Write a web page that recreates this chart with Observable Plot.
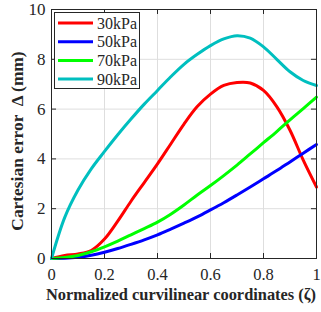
<!DOCTYPE html>
<html><head><meta charset="utf-8">
<script src="https://cdn.jsdelivr.net/npm/d3@7"></script>
<script src="https://cdn.jsdelivr.net/npm/@observablehq/plot@0.6"></script>
<style>
body{margin:0;background:#fff;}
#wrap{position:relative;width:321px;height:312px;}
#wrap svg text{font-family:"Liberation Serif","Times New Roman",Times,"DejaVu Serif",serif !important;}
#legend{position:absolute;left:54px;top:12px;width:86px;height:77px;border:1px solid #262626;background:#fff;box-sizing:border-box;}
</style></head>
<body><div id="wrap"><div id="legend"></div></div>
<script>
const zeta = [0,0.05,0.1,0.15,0.2,0.25,0.3,0.35,0.4,0.45,0.5,0.55,0.6,0.65,0.7,0.75,0.8,0.85,0.9,0.95,1];
const p30 = [0,0.12,0.18,0.32,0.78,1.5,2.3,3.05,3.8,4.6,5.4,6.1,6.6,6.95,7.07,7.05,6.75,6.1,5.15,3.95,2.87];
const p50 = [0,0.01,0.05,0.13,0.25,0.4,0.57,0.75,0.95,1.18,1.42,1.67,1.95,2.24,2.55,2.87,3.2,3.53,3.88,4.23,4.58];
const p70 = [0,0.04,0.12,0.27,0.47,0.7,0.95,1.2,1.46,1.78,2.15,2.55,2.93,3.33,3.75,4.2,4.65,5.1,5.57,6.02,6.48];
const p90 = [0,1.65,2.75,3.6,4.3,4.97,5.6,6.2,6.75,7.3,7.8,8.2,8.55,8.82,8.95,8.85,8.5,8.0,7.5,7.15,6.95];
const seriesNames = ["30kPa","50kPa","70kPa","90kPa"];
const seriesColors = ["#ff0000","#0000ff","#00ff00","#00bfbf"];
const xTicks = [0,0.2,0.4,0.6,0.8,1];
const xTickLabels = ["0","0.2","0.4","0.6","0.8","1"];
const yTicks = [0,2,4,6,8,10];
const yTickLabels = ["0","2","4","6","8","10"];
const xLabel = "Normalized curvilinear coordinates (\u03B6)";
const yLabel = "Cartesian error  \u0394 (mm)";

const all = [p30,p50,p70,p90];
const data = [];
all.forEach((arr,i)=>arr.forEach((v,j)=>data.push({x:zeta[j],y:v,s:seriesNames[i]})));

const font = '"Liberation Serif","Times New Roman",Times,"DejaVu Serif",serif';
const xFmt = d => xTickLabels[xTicks.indexOf(d)];
const yFmt = d => yTickLabels[yTicks.indexOf(d)];
const chart = Plot.plot({
  width:321, height:312,
  marginLeft:51, marginTop:9, marginRight:5, marginBottom:54,
  style:{fontFamily:font, fontSize:"17px", color:"#262626", background:"#fff"},
  x:{domain:[0,1]},
  y:{domain:[0,10]},
  color:{domain:seriesNames, range:seriesColors},
  marks:[
    Plot.gridX(xTicks,{stroke:"#dedede", strokeOpacity:1}),
    Plot.gridY(yTicks,{stroke:"#dedede", strokeOpacity:1}),
    Plot.axisX(xTicks,{tickSize:0, tickPadding:10, label:null, fontSize:16.5, tickFormat:xFmt, fontFamily:font}),
    Plot.axisY(yTicks,{tickSize:0, tickPadding:6, label:null, fontSize:17, tickFormat:yFmt, fontFamily:font}),
    Plot.ruleX(xTicks,{y1:0,y2:0.2,stroke:"#262626"}),
    Plot.ruleX(xTicks,{y1:9.8,y2:10,stroke:"#262626"}),
    Plot.ruleY(yTicks,{x1:0,x2:0.019,stroke:"#262626"}),
    Plot.ruleY(yTicks,{x1:0.981,x2:1,stroke:"#262626"}),
    Plot.line(data,{x:"x",y:"y",stroke:"s",z:"s",strokeWidth:3,curve:"catmull-rom"}),
    Plot.frame({stroke:"#262626"}),
    Plot.text([xLabel],{frameAnchor:"bottom",textAnchor:"middle",dy:41,dx:-3,fontWeight:"bold",fontSize:16.4,fill:"#262626",fontFamily:font}),
    Plot.text([yLabel],{frameAnchor:"left",textAnchor:"middle",dx:-34,dy:7,rotate:-90,fontWeight:"bold",fontSize:17.4,fill:"#262626",fontFamily:font})
  ]
});
document.getElementById("wrap").insertBefore(chart, document.getElementById("legend"));

const leg = d3.select("#legend").append("svg").attr("width",84).attr("height",75)
  .style("font-family",font).style("font-size","16px");
seriesNames.forEach((n,i)=>{
  const y = 10 + i*18.7;
  leg.append("line").attr("x1",3).attr("x2",38).attr("y1",y).attr("y2",y)
    .attr("stroke",seriesColors[i]).attr("stroke-width",3);
  leg.append("text").attr("x",42).attr("y",y).attr("dy","0.35em").attr("fill","#262626").text(n);
});
</script></body></html>
